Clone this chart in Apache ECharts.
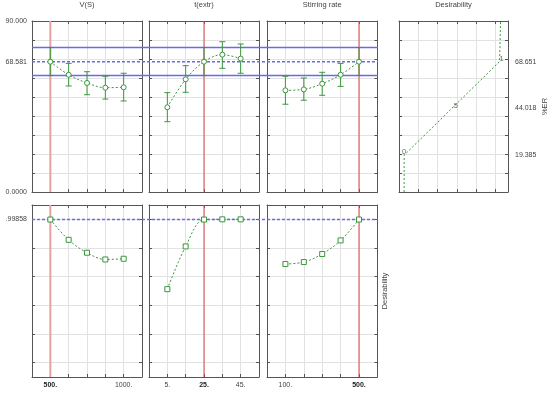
<!DOCTYPE html>
<html><head><meta charset="utf-8">
<script src="https://cdn.jsdelivr.net/npm/echarts@6/dist/echarts.min.js"></script>
<style>html,body{margin:0;padding:0;background:#fff}#c{width:550px;height:395px}</style>
</head><body><div id="c"></div>
<script>
// ---- data ----
const titles = ['V(S)', 't(extr)', 'Stirring rate', 'Desirability'];
const vsX = [500, 625, 750, 875, 1000];
const vsER = [68.581, 61.7, 57.4, 54.9, 55.1];
const vsLow = [61.3, 55.8, 51.2, 48.9, 47.9];
const vsHigh = [76.05, 67.7, 63.3, 60.9, 62.5];
const vsDes = [0.99858, 0.857, 0.767, 0.720, 0.725];

const tX = [5, 15, 25, 35, 45];
const tER = [44.6, 59.3, 68.581, 72.3, 70.2];
const tLow = [37.0, 52.5, 61.3, 65.1, 62.5];
const tHigh = [52.3, 66.5, 76.05, 79.1, 77.9];
const tDes = [0.513, 0.811, 0.99858, 1.0, 1.0];

const srX = [100, 200, 300, 400, 500];
const srER = [53.5, 54.0, 57.0, 61.7, 68.581];
const srLow = [46.2, 48.3, 50.9, 55.6, 61.3];
const srHigh = [60.9, 60.0, 63.0, 67.7, 76.05];
const srDes = [0.688, 0.702, 0.758, 0.853, 0.99858];

const currentX = [500, 25, 500];
const predER = 68.581, ciLow = 61.3, ciHigh = 76.05;
const predDes = 0.99858;

const desCurveD = [0, 0, 0.5, 1, 1.01];
const desCurveER = [0, 19.385, 44.018, 68.651, 90];
const desCurveLabels = ['', '0', '.5', '1', ''];
const desTickLabels = [19.385, 44.018, 68.651];

const erTickLabels = [0, 68.581, 90];
const desLeftLabels = [0.99858];
const desGridValues = [0, 0.2, 0.4, 0.6, 0.8, 1.0];
const xLabelVals = [[500, 1000], [5, 25, 45], [100, 500]];
const xRanges = [[375, 1125, 125], [-5, 55, 10], [0, 600, 100]];

// ---- styles ----
const FONT = '"Liberation Sans", Arial, sans-serif';
const GREEN = '#3b973b', BLUE = '#6a6ae8', RED = '#dd4444', PINK = '#eaa0a0';
const FRAME = '#555', GRID = '#e2e2e2', TXT = '#444';
const lineAx = {show: true, onZero: false, lineStyle: {color: FRAME, width: 1}};
const tickAx = {show: true, inside: true, length: 3, lineStyle: {color: FRAME}};
const lblBase = {fontFamily: FONT, fontSize: 7, color: TXT};

const grid = [
  {left: 32, top: 21, width: 110, height: 171},
  {left: 149, top: 21, width: 110, height: 171},
  {left: 267, top: 21, width: 110.4, height: 171},
  {left: 399, top: 21, width: 113, height: 171},
  {left: 32, top: 205, width: 110, height: 172},
  {left: 149, top: 205, width: 110, height: 172},
  {left: 267, top: 205, width: 110.4, height: 172},
  {left: 32, top: 21, width: 346, height: 171},
  {left: 32, top: 205, width: 346, height: 172}
];

const xAxis = [], yAxis = [], series = [];
function addX(o) { xAxis.push(o); return xAxis.length - 1; }
function addY(o) { yAxis.push(o); return yAxis.length - 1; }

function frameX(g, min, max, interval, label, name) {
  const b = addX({type: 'value', gridIndex: g, min, max, interval, position: 'bottom',
    axisLine: lineAx, axisTick: tickAx, splitLine: {show: true, lineStyle: {color: GRID}},
    axisLabel: label || {show: false}});
  addX({type: 'value', gridIndex: g, min, max, interval, position: 'top',
    axisLine: lineAx, axisTick: tickAx, splitLine: {show: false}, axisLabel: {show: false},
    name: name || '', nameLocation: 'middle', nameGap: 12,
    nameTextStyle: {fontFamily: FONT, fontSize: 7.5, color: TXT}});
  return b;
}
function frameY(g, min, max, interval, leftLabel, rightLabel, tickCustom, rightName, rightGap) {
  const tk = tickCustom ? Object.assign({}, tickAx, {customValues: tickCustom}) : tickAx;
  const l = addY({type: 'value', gridIndex: g, min, max, interval, position: 'left',
    axisLine: lineAx, axisTick: tk, splitLine: {show: true, lineStyle: {color: GRID}},
    axisLabel: leftLabel || {show: false}});
  addY({type: 'value', gridIndex: g, min, max, interval, position: 'right',
    axisLine: lineAx, axisTick: tk, splitLine: {show: false},
    axisLabel: rightLabel || {show: false},
    name: rightName || '', nameLocation: 'middle', nameGap: rightGap || 0, nameRotate: 90,
    nameTextStyle: {fontFamily: FONT, fontSize: 7.5, color: TXT}});
  return l;
}
function fmtER(v) {
  if (v === 90) return '90.000';
  if (v === 0) return '0.0000';
  return v.toFixed(3);
}
function xLabel(i) {
  return Object.assign({}, lblBase, {
    show: true, margin: 5, customValues: xLabelVals[i],
    formatter: v => v === currentX[i] ? '{b|' + v + '.}' : v + '.',
    rich: {b: {fontFamily: FONT, fontSize: 7, fontWeight: 'bold', color: '#222'}}
  });
}

function errBar(xi, yi, xs, lo, hi) {
  return {
    type: 'custom', xAxisIndex: xi, yAxisIndex: yi, z: 4,
    data: xs.map((x, i) => [x, lo[i], hi[i]]),
    encode: {x: 0, y: [1, 2]},
    renderItem: (p, api) => {
      const a = api.coord([api.value(0), api.value(1)]);
      const b = api.coord([api.value(0), api.value(2)]);
      const st = {stroke: GREEN, lineWidth: 1};
      return {type: 'group', children: [
        {type: 'line', shape: {x1: a[0], y1: a[1], x2: b[0], y2: b[1]}, style: st},
        {type: 'line', shape: {x1: a[0] - 3, y1: a[1], x2: a[0] + 3, y2: a[1]}, style: st},
        {type: 'line', shape: {x1: b[0] - 3, y1: b[1], x2: b[0] + 3, y2: b[1]}, style: st}
      ]};
    }
  };
}
function greenLine(xi, yi, xs, ys, sym) {
  return {
    type: 'line', xAxisIndex: xi, yAxisIndex: yi, z: 5, smooth: 0.35,
    data: xs.map((x, i) => [x, ys[i]]),
    symbol: sym, symbolSize: 5, showSymbol: true,
    itemStyle: {color: '#fff', borderColor: GREEN, borderWidth: 1},
    lineStyle: {color: GREEN, width: 1, type: [2, 2]}, silent: true
  };
}
function vLine(xi, yi, x, y0, y1, color, w) {
  return {
    type: 'line', xAxisIndex: xi, yAxisIndex: yi, z: 2, symbol: 'none', silent: true,
    data: [[x, y0], [x, y1]], lineStyle: {color, width: w}
  };
}

const panels = [
  {x: vsX, er: vsER, lo: vsLow, hi: vsHigh, des: vsDes},
  {x: tX, er: tER, lo: tLow, hi: tHigh, des: tDes},
  {x: srX, er: srER, lo: srLow, hi: srHigh, des: srDes}
];

panels.forEach((pn, i) => {
  const [mn, mx, iv] = xRanges[i];
  const xt = frameX(i, mn, mx, iv, null, titles[i]);
  const yt = frameY(i, 0, 90, 10,
    i === 0 ? Object.assign({}, lblBase, {show: true, margin: 5, customValues: erTickLabels, formatter: fmtER}) : null);
  series.push(vLine(xt, yt, currentX[i], 0, 90, i === 0 ? PINK : RED, i === 0 ? 2 : 1));
  series.push(errBar(xt, yt, pn.x, pn.lo, pn.hi));
  series.push(greenLine(xt, yt, pn.x, pn.er, 'circle'));
  const xb = frameX(4 + i, mn, mx, iv, xLabel(i), '');
  const yb = frameY(4 + i, -0.1, 1.1, null,
    i === 0 ? Object.assign({}, lblBase, {show: true, margin: 5, customValues: desLeftLabels, formatter: () => '.99858'}) : null,
    null, desGridValues, i === 2 ? 'Desirability' : '', 4);
  series.push(vLine(xb, yb, currentX[i], -0.1, 1.1, i === 0 ? PINK : RED, i === 0 ? 2 : 1));
  series.push(greenLine(xb, yb, pn.x, pn.des, 'rect'));
});

// desirability panel
frameX(3, 0, 5.65, 1, null, titles[3]);
const xdData = addX({type: 'value', gridIndex: 3, min: -0.054, max: 1.088, show: false});
const yd = frameY(3, 0, 90, 10, null,
  Object.assign({}, lblBase, {show: true, margin: 7, customValues: desTickLabels, formatter: v => v.toFixed(3)}),
  null, '%ER', 33);
series.push({
  type: 'line', xAxisIndex: xdData, yAxisIndex: yd, z: 5, symbol: 'none',
  data: desCurveD.map((d, i) => [d, desCurveER[i]]),
  lineStyle: {color: GREEN, width: 1, type: [2, 2]}, silent: true
});
const labelOffsets = [[0, 0], [0, 3], [3, 4], [2, 3], [0, 0]];
series.push({
  type: 'scatter', xAxisIndex: xdData, yAxisIndex: yd, z: 6, symbolSize: 2,
  itemStyle: {color: 'rgba(255,255,255,0)', borderWidth: 0},
  data: desCurveD.map((d, i) => ({value: [d, desCurveER[i]],
    label: {show: desCurveLabels[i] !== '', formatter: desCurveLabels[i], position: 'top',
      distance: 1, offset: labelOffsets[i], fontFamily: FONT, fontSize: 7.5, color: TXT}})),
  silent: true
});

// overlay reference lines
const xo1 = addX({type: 'value', gridIndex: 7, min: 0, max: 1, show: false});
const yo1 = addY({type: 'value', gridIndex: 7, min: 0, max: 90, show: false});
const xo2 = addX({type: 'value', gridIndex: 8, min: 0, max: 1, show: false});
const yo2 = addY({type: 'value', gridIndex: 8, min: -0.1, max: 1.1, show: false});
function hLine(xi, yi, y, type, w) {
  return {type: 'line', xAxisIndex: xi, yAxisIndex: yi, z: 3, symbol: 'none', silent: true,
    data: [[0, y], [1, y]], lineStyle: {color: BLUE, width: w, type}};
}
series.push(hLine(xo1, yo1, ciLow, 'solid', 1.5));
series.push(hLine(xo1, yo1, ciHigh, 'solid', 1.5));
series.push(hLine(xo1, yo1, predER, [3, 2], 1.5));
series.push(hLine(xo2, yo2, predDes, [3, 2], 1.5));

const chart = echarts.init(document.getElementById('c'), null, {renderer: 'canvas'});
chart.setOption({animation: false, backgroundColor: '#fff', grid, xAxis, yAxis, series});
</script></body></html>
